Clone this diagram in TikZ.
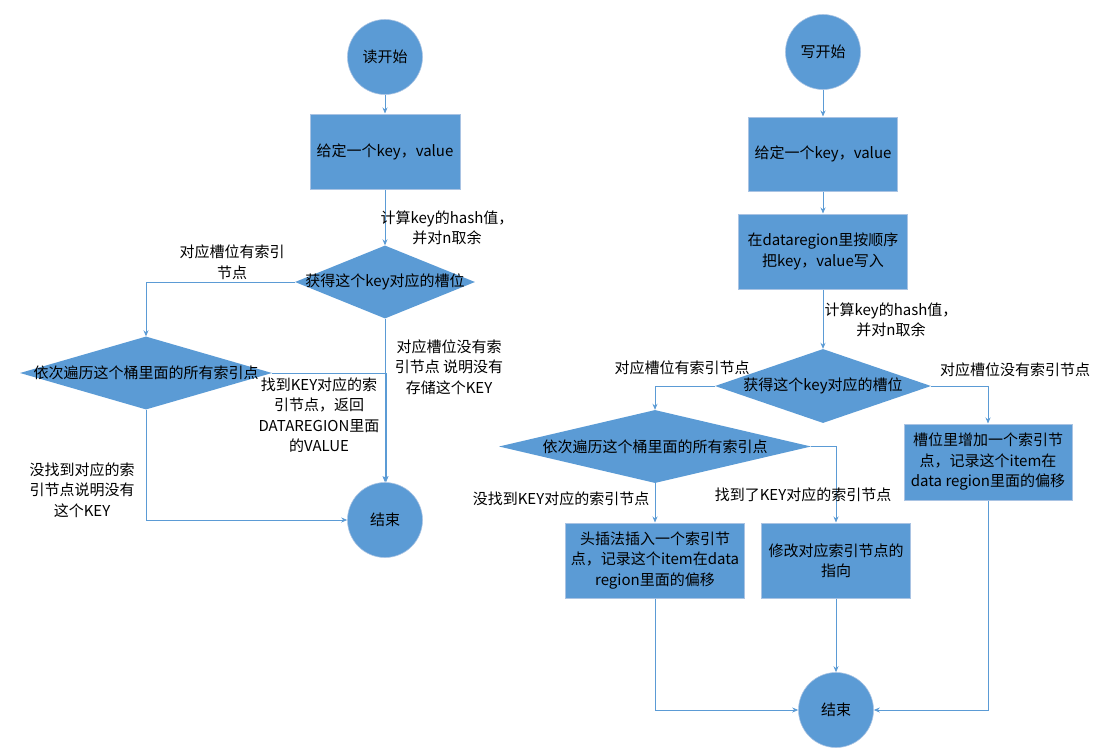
\documentclass[tikz,border=0pt]{standalone}
\usepackage{fontspec}
\setmainfont{Noto Sans CJK SC}
\usetikzlibrary{arrows.meta,shapes.geometric}
\definecolor{fillc}{HTML}{5B9BD5}
\definecolor{linec}{HTML}{5B9BD5}
\definecolor{edgec}{HTML}{A9C3E3}
\begin{document}
\begin{tikzpicture}[x=1pt,y=-1pt,
  font=\fontsize{15}{20.5}\selectfont,
  circ/.style={circle,fill=fillc,draw=edgec,line width=0.6pt,minimum size=75pt,inner sep=0pt},
  box/.style={rectangle,fill=fillc,draw=edgec,line width=1pt,inner sep=0pt,align=center},
  dia/.style={diamond,fill=fillc,draw=none,inner sep=0pt},
  txt/.style={align=center,inner sep=0pt},
  conn/.style={draw=linec,line width=0.8pt,-{Stealth[length=6pt,width=5pt]}},
]
\useasboundingbox (0,0) rectangle (1103,755);
\fill[white] (0,0) rectangle (1103,755);

% ---------- read flow ----------
\node[circ] (rs) at (385,57) {读开始};
\node[box,minimum width=150pt,minimum height=75pt] (rb1) at (385,151.5) {给定一个key，value};
\node[dia,minimum width=180pt,minimum height=73pt] (rd1) at (385,282) {};
\node[txt] (rd1t) at (rd1) {获得这个key对应的槽位};
\node[dia,minimum width=252pt,minimum height=73pt] (rd2) at (146,373) {};
\node[txt] (rd2t) at (rd2) {依次遍历这个桶里面的所有索引点};
\node[circ] (re) at (385,520) {结束};

\draw[conn] (rs) -- (rb1);
\draw[conn] (rb1) -- (rd1);
\draw[conn] (rd1.west) -| (rd2.north);
\draw[conn] (rd1.south) -- (re.north);
\draw[conn] (rd2.east) -| ([xshift=1pt]re.north);
\draw[conn] (rd2.south) |- (re.west);

\node[txt] (rl1) at (447,228) {计算key的hash值，\\并对n取余};
\node[txt] (rl2) at (232,262) {对应槽位有索引\\节点};
\node[txt] (rl3) at (449,367) {对应槽位没有索\\引节点 说明没有\\存储这个KEY};
\node[txt] (rl4) at (319,415) {找到KEY对应的索\\引节点，返回\\DATAREGION里面\\的VALUE};
\node[txt] (rl5) at (82,490) {没找到对应的索\\引节点说明没有\\这个KEY};

% ---------- write flow ----------
\node[circ] (ws) at (823,52) {写开始};
\node[box,minimum width=149pt,minimum height=74pt] (wb1) at (823,154) {给定一个key，value};
\node[box,minimum width=169pt,minimum height=75pt] (wb2) at (823,251.5) {在dataregion里按顺序\\把key，value写入};
\node[dia,minimum width=216pt,minimum height=74pt] (wd1) at (823,386) {};
\node[txt] (wd1t) at (wd1) {获得这个key对应的槽位};
\node[dia,minimum width=312pt,minimum height=73pt] (wd2) at (655,446.5) {};
\node[txt] (wd2t) at (wd2) {依次遍历这个桶里面的所有索引点};
\node[box,minimum width=168pt,minimum height=76pt] (wb3) at (988,462) {槽位里增加一个索引节\\点，记录这个item在\\data region里面的偏移};
\node[box,minimum width=179pt,minimum height=75pt] (wb4) at (655,560.5) {头插法插入一个索引节\\点，记录这个item在data\\region里面的偏移};
\node[box,minimum width=149pt,minimum height=75pt] (wb5) at (836,560.5) {修改对应索引节点的\\指向};
\node[circ] (we) at (836,710) {结束};

\draw[conn] (ws) -- (wb1);
\draw[conn] (wb1) -- (wb2);
\draw[conn] (wb2) -- (wd1);
\draw[conn] (wd1.west) -| (wd2.north);
\draw[conn] (wd1.east) -| (wb3.north);
\draw[conn] (wd2.south) -- (wb4.north);
\draw[conn] (wd2.east) -| (wb5.north);
\draw[conn] (wb4.south) |- (we.west);
\draw[conn] (wb5.south) -- (we.north);
\draw[conn] (wb3.south) |- (we.east);

\node[txt] (wl1) at (891,320) {计算key的hash值，\\并对n取余};
\node[txt] (wl2) at (682,368) {对应槽位有索引节点};
\node[txt] (wl3) at (1015,370) {对应槽位没有索引节点};
\node[txt] (wl4) at (561,499) {没找到KEY对应的索引节点};
\node[txt] (wl5) at (803,495) {找到了KEY对应的索引节点};
\end{tikzpicture}
\end{document}
